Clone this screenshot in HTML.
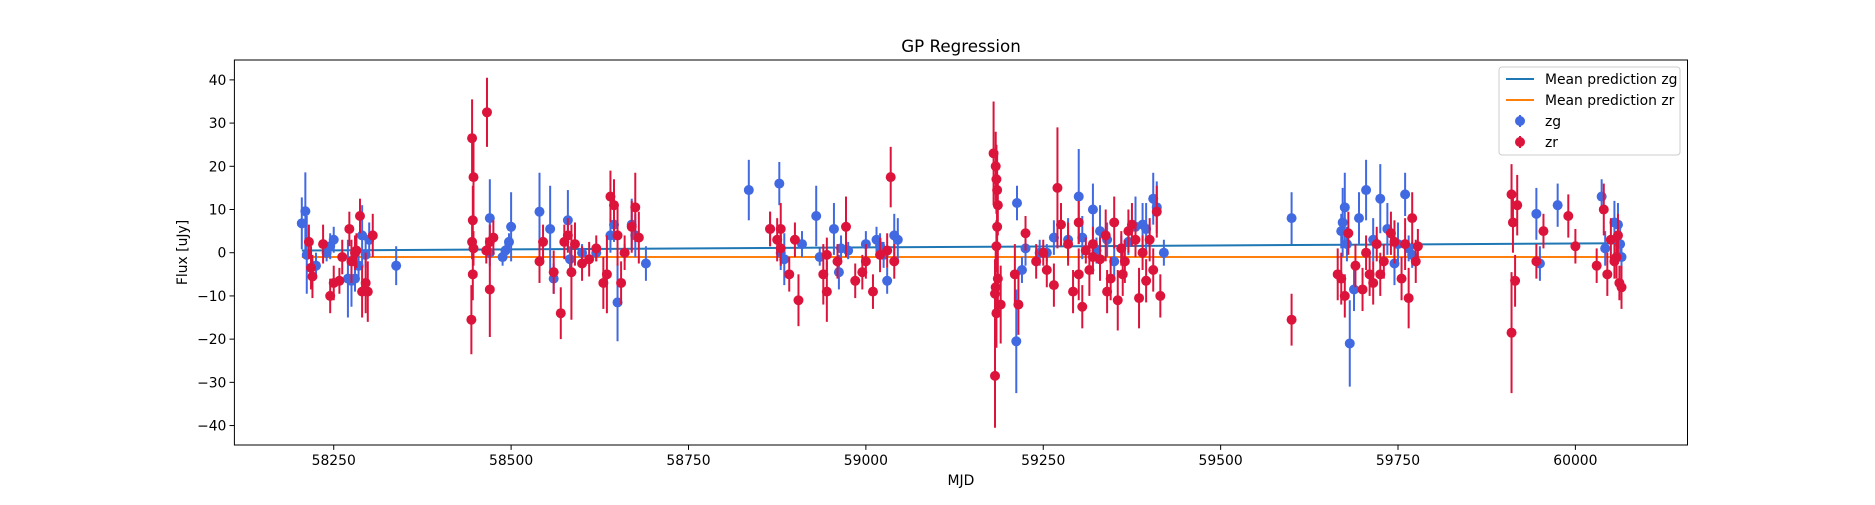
<!DOCTYPE html>
<html><head><meta charset="utf-8"><style>
html,body{margin:0;padding:0;background:#fff;}
svg text{font-family:"DejaVu Sans","Liberation Sans",sans-serif;fill:#000;}
</style></head><body>
<svg id="chart" width="1875" height="500" xmlns="http://www.w3.org/2000/svg">
<rect width="1875" height="500" fill="#fff"/>
<text x="961" y="52" font-size="16.7" text-anchor="middle">GP Regression</text>
<g id="plot"></g>
</svg>
<script>
const xTicks=[58250,58500,58750,59000,59250,59500,59750,60000];
const yTicks=[-40,-30,-20,-10,0,10,20,30,40];
const zgMjd=[58205,58210,58212,58225,58240,58245,58250,58270,58275,58280,58285,58290,58295,58300,58338,
58470,58470,58488,58492,58497,58500,58540,58555,58560,58580,58583,58600,58620,58640,58645,58650,58660,58670,58675,58690,
58835,58865,58878,58880,58885,58910,58930,58935,58955,58962,58965,58975,59000,59015,59020,59025,59030,59040,59045,
59213,59212,59220,59225,59245,59255,59265,59285,59300,59305,59320,59325,59330,59340,59350,59360,59370,59380,59390,59395,59405,59410,59420,
59600,59670,59672,59675,59678,59682,59688,59695,59705,59715,59725,59735,59745,59750,59760,59765,59770,
59945,59950,59975,60037,60042,60055,60060,60063,60065];
const zgFlux=[6.8,9.6,-0.5,-3,0,1.5,3,-6,-6.5,-6,-3,4,-0.5,3,-3,
8,0,-1,0.5,2.5,6,9.5,5.5,-6,7.5,-1.5,0,0,4,6.5,-11.5,0,6.5,4,-2.5,
14.5,5.5,16,0,-1.5,2,8.5,-1,5.5,-4.5,1,0.5,2,3,1.5,-0.5,-6.5,4,3,
11.5,-20.5,-4,1,0,0,3.5,3,13,3.5,10,0.5,5,3,-2,1,2.5,6,6.5,5.5,12.5,10.5,0,
8,5,7,10.5,2,-21,-8.5,8,14.5,3,12.5,5.5,-2.5,2,13.5,1,-0.5,
9,-2.5,11,13,1,7,6.5,2,-1];
const zgErr=[6,9,9,3,2,3,3,9,6,3,3,7,3,4,4.5,
9,3,2,2,2,8,9,10,3.5,7,3,2,2,4,4,9,2,6,5,4,
7,4,5,4,6,3,7,2,6,4,3,2,3,3,3,3,3,5,5,
4,12,3,4,3,2,4,5,11,5,6,3,6,4,4,3,3,7,5,6,6,6,3,
6,4,8,8,4,10,5,6,7,5,8,6,5,5,5,3,3,
6,4,5,4,4,5,5,4,3];
const zrMjd=[58215,58218,58220,58235,58245,58250,58258,58262,58272,58275,58280,58282,58287,58290,58295,58298,58305,
58445,58447,58446,58445,58447,58446,58444,58466,58470,58475,58470,58465,
58540,58545,58560,58570,58575,58580,58585,58590,58600,58610,58620,58630,58635,58640,58645,58650,58655,58660,58670,58675,58680,
58865,58875,58880,58880,58892,58905,58900,58945,58940,58945,58960,58972,58985,59000,58995,59010,59020,59030,59035,59040,
59180,59183,59184,59185,59186,59185,59184,59183,59182,59184,59182,59186,59190,59210,59215,59225,
59240,59250,59255,59265,59270,59275,59285,59292,59300,59300,59305,59315,59320,59330,59338,59340,59345,59350,59355,59362,59365,59370,59380,59385,59390,59395,59400,59405,59410,59415,59320,59310,59360,59375,
59600,
59665,59670,59675,59680,59690,59700,59705,59710,59715,59720,59725,59730,59740,59745,59755,59760,59765,59770,59775,59778,
59910,59912,59910,59915,59918,59945,59955,59990,60000,60030,60040,60045,60050,60055,60060,60062,60065,60058];
const zrFlux=[2.5,-3.5,-5.5,2,-10,-7,-6.5,-1,5.5,-2,0,0.5,8.5,-9,-7,-9,4,
26.5,17.5,7.5,2.5,1,-5,-15.5,32.5,2.5,3.5,-8.5,0.5,
-2,2.5,-4.5,-14,2.5,4,-4.5,2,-2.5,-1.5,1,-7,-5,13,11,4,-7,0,6,10.5,3.5,
5.5,3,5.5,1,-5,-11,3,-0.5,-5,-9,-2,6,-6.5,-2,-4.5,-9,-0.5,0.5,17.5,-2,
23,20,17,14.5,11,6,1.5,-8,-9.5,-14,-28.5,-6,-12,-5,-12,4.5,
-2,0,-4,-7.5,15,6.5,2,-9,7,-5,-12.5,-4,2,-1.5,4,-9,-6,7,-11,-5,-2,5,3,-10.5,0,-6.5,3,-4,9.5,-10,-1,0.5,1,6.5,
-15.5,
-5,-6,-10,4.5,-3,-8.5,0,-5,-7,2,-5,-2,4.5,2.5,-6,2,-10.5,8,-2,1.5,
13.5,7,-18.5,-6.5,11,-2,5,8.5,1.5,-3,10,-5,3,-2,4,-7,-8,-1];
const zrErr=[4,5,5,4.5,4,4,3,4,4,5,4,4,4,6,7,7,5,
9,10,8,4,4,6,8,8,4,4,11,3,
5,4,5,6,4,4,11,5,4,4,3,6,9,6,6,7,5,4,6,8,6,
4,5,6,4,4,6,4,4,7,7,4,7,4,4,4,4,4,4,7,4,
12,8,8,8,7,8,6,9,8,8,12,7,9,7,7,4,
4,3,4,5,14,5,5,5,5,6,5,6,4,5,6,5,5,6,7,5,5,5,4,7,4,5,5,5,6,5,4,3,4,5,
6,
6,6,5,5,5,5,4,5,5,4,5,4,5,5,5,6,7,6,5,4,
7,7,14,6,7,4,4,5,4,4,6,5,5,4,5,4,5,5];
const meanX=[58205,60065];
const meanZg=[0.5,2.2];
const meanZr=[-1,-1];

const L=234.4,R=1687.5,T=60,B=445;
const xMin=58110,xMax=60158,yMin=-44.5,yMax=44.6;
const sx=v=>L+(v-xMin)/(xMax-xMin)*(R-L);
const sy=v=>B-(v-yMin)/(yMax-yMin)*(B-T);
const NS='http://www.w3.org/2000/svg';
const plot=document.getElementById('plot');
function mk(tag,attrs,parent){const e=document.createElementNS(NS,tag);for(const k in attrs)e.setAttribute(k,attrs[k]);(parent||plot).appendChild(e);return e;}

// axes ticks
xTicks.forEach(t=>{
 const g=mk('g',{});
 
 
 mk('line',{x1:sx(t),x2:sx(t),y1:B,y2:B+4.9,stroke:'#000','stroke-width':1},g);
 const tx=mk('text',{x:sx(t),y:B+20,'font-size':13.9,'text-anchor':'middle'},g);tx.textContent=t;
});
yTicks.forEach(t=>{
 const g=mk('g',{});
 
 
 mk('line',{x1:L-4.9,x2:L,y1:sy(t),y2:sy(t),stroke:'#000','stroke-width':1},g);
 const tx=mk('text',{x:L-8,y:sy(t)+5,'font-size':13.9,'text-anchor':'end'},g);tx.textContent=(t<0?'\u2212'+(-t):t);
});
const xl=mk('text',{x:(L+R)/2,y:485,'font-size':13.9,'text-anchor':'middle'});xl.textContent='MJD';


const yl=mk('text',{x:0,y:0,'font-size':13.9,'text-anchor':'middle',transform:`translate(187,${(T+B)/2}) rotate(-90)`});yl.textContent='Flux [uJy]';



// mean lines
const lz=mk('line',{x1:sx(meanX[0]),x2:sx(meanX[1]),y1:sy(meanZg[0]),y2:sy(meanZg[1]),stroke:'#1f77b4','stroke-width':2});


const lr=mk('line',{x1:sx(meanX[0]),x2:sx(meanX[1]),y1:sy(meanZr[0]),y2:sy(meanZr[1]),stroke:'#ff7f0e','stroke-width':2});



function series(xs,ys,es,color,name){
 const g=mk('g',{});
 
 
 xs.forEach((x,i)=>{
  const l=mk('line',{x1:sx(x),x2:sx(x),y1:sy(ys[i]-es[i]),y2:sy(ys[i]+es[i]),stroke:color,'stroke-width':2},g);
  
  
 });
 xs.forEach((x,i)=>{
  const c=mk('circle',{cx:sx(x),cy:sy(ys[i]),r:5,fill:color},g);
  
  
 });
}
series(zgMjd,zgFlux,zgErr,'#4169e1','zg');
series(zrMjd,zrFlux,zrErr,'#dc143c','zr');

// frame
const fr=mk('rect',{x:L,y:T,width:R-L,height:B-T,fill:'none',stroke:'#000','stroke-width':1});



// legend
const lg=mk('g',{});


mk('rect',{x:1499,y:67,width:181,height:88,rx:3,fill:'#fff','fill-opacity':0.8,stroke:'#ccc'},lg);
const items=[['line','#1f77b4','Mean prediction zg'],['line','#ff7f0e','Mean prediction zr'],['pt','#4169e1','zg'],['pt','#dc143c','zr']];
items.forEach((it,i)=>{
 const y=79+i*21;
 const e=mk('g',{},lg);
 
 
 if(it[0]==='line') mk('line',{x1:1506,x2:1534,y1:y,y2:y,stroke:it[1],'stroke-width':2},e);
 else {mk('line',{x1:1520,x2:1520,y1:y-6,y2:y+6,stroke:it[1],'stroke-width':2},e);mk('circle',{cx:1520,cy:y,r:5,fill:it[1]},e);}
 const t=mk('text',{x:1545,y:y+5,'font-size':13.9},e);t.textContent=it[2];
});
</script>
</body></html>
